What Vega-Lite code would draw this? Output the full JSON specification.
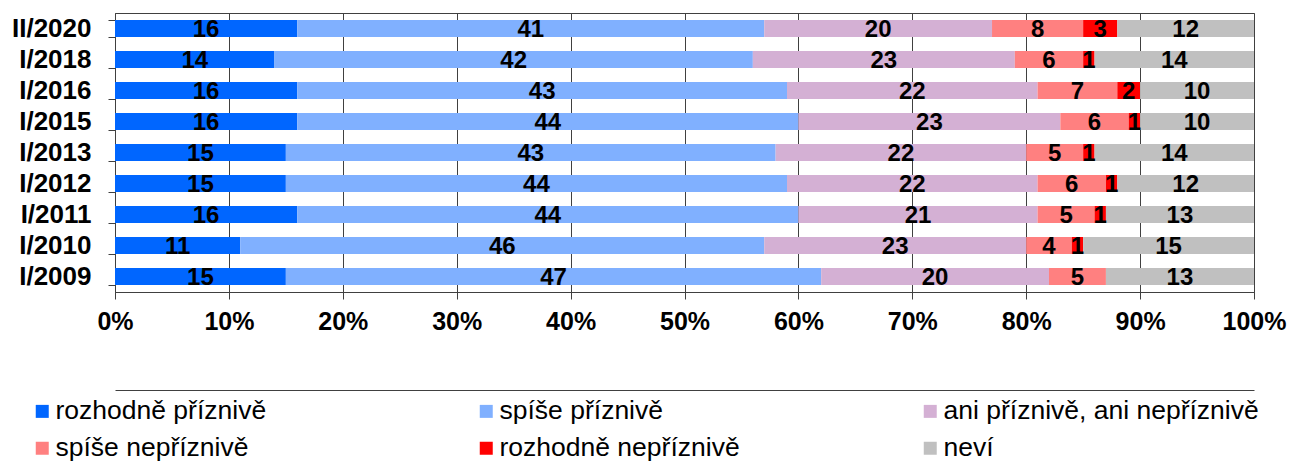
{
  "$schema": "https://vega.github.io/schema/vega-lite/v6.json",
  "width": 1139,
  "height": 279,
  "autosize": {"type": "none"},
  "padding": {"left": 115, "top": 13, "right": 37, "bottom": 171},
  "background": "white",
  "config": {"view": {"stroke": "#404040", "strokeWidth": 1}, "font": "Liberation Sans"},
  "datasets": {
    "cats": [
      {"c": "rozhodně příznivě", "k": 1},
      {"c": "spíše příznivě", "k": 2},
      {"c": "ani příznivě, ani nepříznivě", "k": 3},
      {"c": "spíše nepříznivě", "k": 4},
      {"c": "rozhodně nepříznivě", "k": 5},
      {"c": "neví", "k": 6}
    ]
  },
  "data": {"values": [
    {"w": "II/2020", "c": "rozhodně příznivě", "v": 16},
    {"w": "II/2020", "c": "spíše příznivě", "v": 41},
    {"w": "II/2020", "c": "ani příznivě, ani nepříznivě", "v": 20},
    {"w": "II/2020", "c": "spíše nepříznivě", "v": 8},
    {"w": "II/2020", "c": "rozhodně nepříznivě", "v": 3},
    {"w": "II/2020", "c": "neví", "v": 12},
    {"w": "I/2018", "c": "rozhodně příznivě", "v": 14},
    {"w": "I/2018", "c": "spíše příznivě", "v": 42},
    {"w": "I/2018", "c": "ani příznivě, ani nepříznivě", "v": 23},
    {"w": "I/2018", "c": "spíše nepříznivě", "v": 6},
    {"w": "I/2018", "c": "rozhodně nepříznivě", "v": 1},
    {"w": "I/2018", "c": "neví", "v": 14},
    {"w": "I/2016", "c": "rozhodně příznivě", "v": 16},
    {"w": "I/2016", "c": "spíše příznivě", "v": 43},
    {"w": "I/2016", "c": "ani příznivě, ani nepříznivě", "v": 22},
    {"w": "I/2016", "c": "spíše nepříznivě", "v": 7},
    {"w": "I/2016", "c": "rozhodně nepříznivě", "v": 2},
    {"w": "I/2016", "c": "neví", "v": 10},
    {"w": "I/2015", "c": "rozhodně příznivě", "v": 16},
    {"w": "I/2015", "c": "spíše příznivě", "v": 44},
    {"w": "I/2015", "c": "ani příznivě, ani nepříznivě", "v": 23},
    {"w": "I/2015", "c": "spíše nepříznivě", "v": 6},
    {"w": "I/2015", "c": "rozhodně nepříznivě", "v": 1},
    {"w": "I/2015", "c": "neví", "v": 10},
    {"w": "I/2013", "c": "rozhodně příznivě", "v": 15},
    {"w": "I/2013", "c": "spíše příznivě", "v": 43},
    {"w": "I/2013", "c": "ani příznivě, ani nepříznivě", "v": 22},
    {"w": "I/2013", "c": "spíše nepříznivě", "v": 5},
    {"w": "I/2013", "c": "rozhodně nepříznivě", "v": 1},
    {"w": "I/2013", "c": "neví", "v": 14},
    {"w": "I/2012", "c": "rozhodně příznivě", "v": 15},
    {"w": "I/2012", "c": "spíše příznivě", "v": 44},
    {"w": "I/2012", "c": "ani příznivě, ani nepříznivě", "v": 22},
    {"w": "I/2012", "c": "spíše nepříznivě", "v": 6},
    {"w": "I/2012", "c": "rozhodně nepříznivě", "v": 1},
    {"w": "I/2012", "c": "neví", "v": 12},
    {"w": "I/2011", "c": "rozhodně příznivě", "v": 16},
    {"w": "I/2011", "c": "spíše příznivě", "v": 44},
    {"w": "I/2011", "c": "ani příznivě, ani nepříznivě", "v": 21},
    {"w": "I/2011", "c": "spíše nepříznivě", "v": 5},
    {"w": "I/2011", "c": "rozhodně nepříznivě", "v": 1},
    {"w": "I/2011", "c": "neví", "v": 13},
    {"w": "I/2010", "c": "rozhodně příznivě", "v": 11},
    {"w": "I/2010", "c": "spíše příznivě", "v": 46},
    {"w": "I/2010", "c": "ani příznivě, ani nepříznivě", "v": 23},
    {"w": "I/2010", "c": "spíše nepříznivě", "v": 4},
    {"w": "I/2010", "c": "rozhodně nepříznivě", "v": 1},
    {"w": "I/2010", "c": "neví", "v": 15},
    {"w": "I/2009", "c": "rozhodně příznivě", "v": 15},
    {"w": "I/2009", "c": "spíše příznivě", "v": 47},
    {"w": "I/2009", "c": "ani příznivě, ani nepříznivě", "v": 20},
    {"w": "I/2009", "c": "spíše nepříznivě", "v": 5},
    {"w": "I/2009", "c": "neví", "v": 13}
  ]},
  "transform": [
    {"lookup": "c", "from": {"data": {"name": "cats"}, "key": "c", "fields": ["k"]}}
  ],
  "encoding": {
    "y": {
      "field": "w", "type": "nominal",
      "sort": ["II/2020", "I/2018", "I/2016", "I/2015", "I/2013", "I/2012", "I/2011", "I/2010", "I/2009"],
      "scale": {"paddingInner": 0.45, "paddingOuter": 0.225},
      "axis": {
        "title": null, "labelFont": "Liberation Sans", "labelFontSize": 26, "labelFontWeight": "bold",
        "labelColor": "black", "tickBand": "extent", "ticks": true, "tickSize": 7, "tickColor": "#404040",
        "domainColor": "#404040", "labelPadding": 17, "grid": false
      }
    },
    "order": {"field": "k", "type": "quantitative"}
  },
  "layer": [
    {
      "mark": {"type": "bar"},
      "encoding": {
        "x": {
          "field": "v", "type": "quantitative", "stack": "normalize",
          "scale": {"domain": [0, 1]},
          "axis": {
            "orient": "bottom", "format": ".0%", "values": [0, 0.1, 0.2, 0.3, 0.4, 0.5, 0.6, 0.7, 0.8, 0.9, 1],
            "grid": true, "gridColor": "#404040", "gridOpacity": 1, "tickSize": 7, "tickColor": "#404040",
            "domainColor": "#404040", "labelFont": "Liberation Sans", "labelFontSize": 25, "labelFontWeight": "bold",
            "labelColor": "black", "labelPadding": 10, "labelFlush": false, "labelOverlap": false, "title": null
          }
        },
        "color": {
          "field": "c", "type": "nominal",
          "sort": ["rozhodně příznivě", "spíše příznivě", "ani příznivě, ani nepříznivě", "spíše nepříznivě", "rozhodně nepříznivě", "neví"],
          "scale": {
            "domain": ["rozhodně příznivě", "spíše příznivě", "ani příznivě, ani nepříznivě", "spíše nepříznivě", "rozhodně nepříznivě", "neví"],
            "range": ["#0066FF", "#80B0FF", "#D4B0D4", "#FF8080", "#FF0000", "#C0C0C0"]
          },
          "legend": {
            "orient": "none", "legendX": -86, "legendY": 385, "direction": "horizontal", "columns": 3,
            "title": null, "symbolType": "square", "symbolSize": 169, "symbolStrokeWidth": 0,
            "labelFont": "Liberation Sans", "labelFontSize": 26.5, "labelColor": "black", "labelOffset": 0,
            "columnPadding": 102, "rowPadding": 10, "gridAlign": "all", "labelLimit": 0, "padding": 0
          }
        }
      }
    },
    {
      "mark": {"type": "text", "font": "Liberation Sans", "fontSize": 24, "fontWeight": "bold", "baseline": "middle", "dy": 1},
      "encoding": {
        "x": {
          "field": "v", "type": "quantitative", "stack": "normalize", "bandPosition": 0.5,
          "scale": {"domain": [0, 1]},
          "axis": {
            "orient": "bottom", "offset": 98, "domain": true, "domainColor": "#404040", "ticks": false,
            "labels": false, "grid": false, "title": null
          }
        },
        "color": {
          "field": "c", "type": "nominal",
          "sort": ["rozhodně příznivě", "spíše příznivě", "ani příznivě, ani nepříznivě", "spíše nepříznivě", "rozhodně nepříznivě", "neví"],
          "legend": null
        },
        "fill": {"value": "black"},
        "text": {"field": "v", "type": "quantitative"}
      }
    }
  ],
  "resolve": {"scale": {"x": "independent"}}
}
